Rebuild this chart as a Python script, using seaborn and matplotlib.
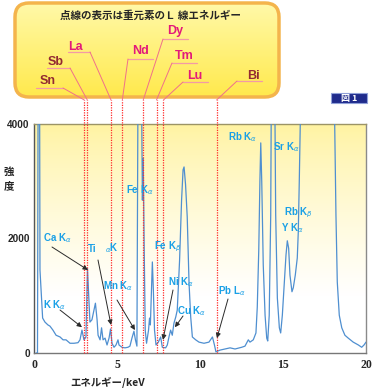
import numpy as np
import matplotlib
matplotlib.use("Agg")
import matplotlib.pyplot as plt
from matplotlib.patches import FancyBboxPatch, Rectangle, ConnectionPatch
import seaborn as sns

# spectrum (keV, counts); values above 4000 are clipped peaks
energy = [0.12, 0.21, 0.26, 0.32, 0.36, 0.46, 0.52, 0.66, 0.84, 0.96, 1.14, 1.33, 1.57, 1.75,
          1.93, 2.17, 2.41, 2.65, 2.77, 2.89, 3.01, 3.13, 3.22, 3.31, 3.37, 3.49, 3.61, 3.70,
          3.80, 3.86, 3.98, 4.07, 4.16, 4.28, 4.40, 4.52, 4.61, 4.70, 4.82, 4.94, 5.06, 5.12,
          5.30, 5.48, 5.66, 5.78, 5.90, 6.02, 6.11, 6.20, 6.28, 6.39, 6.48, 6.53, 6.58, 6.64,
          6.70, 6.78, 6.90, 6.96, 7.01, 7.08, 7.13, 7.19, 7.26, 7.35, 7.49, 7.63, 7.73, 7.93,
          8.03, 8.13, 8.23, 8.33, 8.43, 8.54, 8.63, 8.77, 8.89, 8.98, 9.04, 9.13, 9.23, 9.34,
          9.44, 9.54, 9.74, 9.94, 10.24, 10.54, 10.75, 10.87, 10.96, 11.20, 11.51, 11.81, 12.11,
          12.51, 12.71, 12.91, 13.01, 13.21, 13.37, 13.45, 13.54, 13.61, 13.66, 13.72, 13.81,
          13.92, 14.02, 14.08, 14.17, 14.26, 14.32, 14.40, 14.48, 14.56, 14.66, 14.78, 14.86,
          14.96, 15.08, 15.18, 15.26, 15.34, 15.42, 15.54, 15.62, 15.74, 15.86, 15.92, 15.98,
          16.07, 16.40, 17.00, 17.50, 18.00, 18.09, 18.19, 18.27, 18.39, 18.54, 18.73, 18.93,
          19.23, 19.54, 19.74, 19.88, 20.00]
counts = [0, 0, 6000, 7000, 1450, 930, 610, 540, 490, 470, 400, 310, 280, 230,
          230, 170, 170, 180, 230, 400, 230, 280, 1480, 930, 540, 580, 750, 870,
          580, 310, 230, 440, 230, 260, 140, 260, 420, 170, 100, 140, 230, 140,
          100, 90, 100, 120, 260, 380, 230, 120, 6000, 9000, 4500, 2670, 3400, 1800,
          400, 170, 400, 610, 490, 1100, 1590, 1100, 400, 140, 190, 280, 100, 90,
          140, 280, 400, 310, 520, 630, 750, 1620, 2670, 3200, 3250, 2940, 2380, 1220,
          630, 280, 230, 190, 170, 190, 280, 140, 20, 50, 70, 90, 70,
          100, 120, 230, 190, 230, 350, 800, 1800, 3020, 3670, 2990, 1540,
          660, 260, 210, 660, 2410, 6000, 9000, 5500, 2410, 960, 440, 350,
          660, 1240, 1710, 1960, 1830, 1360, 1070, 1140, 1360, 1660, 2110, 2990,
          4500, 7000, 5500, 9500, 6000, 4500, 2410, 1240, 660, 440, 310, 260,
          190, 140, 100, 140, 190]

# L line energies of heavy elements (dotted lines)
l_elements = ["Sn", "Sb", "La", "Nd", "Dy", "Tm", "Lu", "Bi"]
l_energy = [3.03, 3.21, 4.64, 5.32, 6.58, 7.38, 7.80, 11.0]

# peak labels
peak_text = [r"Ca K$_\alpha$", r"K K$_\alpha$", "Ti", r"$_\alpha$K", r"Mn K$_\alpha$",
             r"Fe K$_\alpha$", r"Fe K$_\beta$", r"Ni K$_\alpha$", r"Cu K$_\alpha$",
             r"Pb L$_\alpha$", r"Rb K$_\alpha$", r"Sr K$_\alpha$", r"Rb K$_\beta$", r"Y K$_\alpha$"]
# arrow targets (keV, counts)
arrow_kev = [3.25, 2.89, 4.64, 6.08, 7.77, 8.49, 11.02]
arrow_cnt = [1450, 450, 490, 400, 230, 450, 260]

sns.set_style("white")
plt.rcParams["font.family"] = ["Liberation Sans", "Noto Sans CJK JP", "DejaVu Sans"]
plt.rcParams["mathtext.fontset"] = "dejavusans"

W, H = 372, 388
fig = plt.figure(figsize=(W / 100, H / 100), dpi=100)
ax = fig.add_axes([34 / W, 35 / H, 332 / W, 229 / H])

# yellow to white background in the plot
t = np.linspace(0, 1, 200)[:, None]
s = np.clip(t / 0.75, 0, 1) ** 0.8
top = np.array([1.0, 0.953, 0.63])
grad = (top * (1 - s) + np.ones(3) * s)[:, None, :]
ax.imshow(grad, extent=[0, 20, 0, 4000], aspect="auto", zorder=0)

sns.lineplot(x=energy, y=counts, ax=ax, color="#4f8fd0", lw=0.9,
             estimator=None, sort=False, zorder=3)

ax.set_xlim(0, 20)
ax.set_ylim(0, 4000)
ax.set_xticks([0, 5, 10, 15, 20])
ax.set_xticklabels(["0", "5", "10", "15", "20"], fontfamily="Liberation Serif",
                   fontsize=8.5, fontweight="bold")
ax.set_yticks([0, 1000, 2000, 3000, 4000])
ax.set_yticklabels(["0", "", "2000", "", "4000"], fontsize=7.2, fontweight="bold")
ax.tick_params(axis="x", length=0, pad=4)
ax.tick_params(axis="y", direction="in", length=4, width=0.8, color="#777777", pad=3)
ax.set_xlabel("")
ax.set_ylabel("")
for side, col in [("left", "#555555"), ("bottom", "#777777"),
                  ("top", "#9c9466"), ("right", "#8a8a8a")]:
    ax.spines[side].set_color(col)
    ax.spines[side].set_linewidth(1.0)

# dotted L lines, running up to the label box
ytop = (353 - 100) / 229
for e in l_energy:
    ax.axvline(e, ymin=0, ymax=ytop, clip_on=False, color="#ff2a2a",
               ls=(0, (1, 1)), lw=0.9, zorder=4)

# overlay in pixel coordinates for the annotations
ov = fig.add_axes([0, 0, 1, 1])
ov.set_xlim(0, W)
ov.set_ylim(H, 0)
ov.axis("off")
ov.patch.set_alpha(0)

box = FancyBboxPatch((15, 3), 264, 94, boxstyle="round,pad=0,rounding_size=14",
                     fc="none", ec="#f4b44c", lw=2.5, zorder=3)
ov.add_patch(box)
bt = np.linspace(0, 1, 100)[:, None]
bgrad = (np.array([1.0, 0.975, 0.66]) * (1 - bt) + np.array([1.0, 0.915, 0.30]) * bt)[:, None, :]
im = ov.imshow(bgrad, extent=[15, 279, 97, 3], aspect="auto", zorder=1)
im.set_clip_path(box)
ov.set_xlim(0, W)
ov.set_ylim(H, 0)

ov.text(150, 16, "点線の表示は重元素のＬ 線エネルギー", ha="center", va="center",
        fontsize=7.6, fontweight="bold", family=["Noto Sans CJK JP"], zorder=5)

lab_x = [40, 48, 68, 132, 167, 175, 187, 247]
lab_y = [81, 62, 47, 51, 31, 56, 76, 76]
ul_y = [88, 68, 52, 59, 39, 63, 82, 81]
ul_x0 = [36, 47, 68, 128, 163, 172, 183, 237]
ul_x1 = [63, 70, 90, 153, 188, 197, 208, 262]
lab_col = ["#932a32", "#932a32", "#e3197a", "#e3197a", "#e3197a", "#e3197a", "#e3197a", "#932a32"]
for i, el in enumerate(l_elements):
    ov.text(lab_x[i], lab_y[i], el, ha="left", va="center", fontsize=9,
            fontweight="bold", color=lab_col[i], zorder=5)
    ov.plot([ul_x0[i], ul_x1[i]], [ul_y[i], ul_y[i]], color="#f39aa6", lw=0.9, zorder=5)
    sx = ul_x1[i] if i < 3 else ul_x0[i]
    con = ConnectionPatch(xyA=(sx, ul_y[i]), coordsA=ov.transData,
                          xyB=(l_energy[i], ytop), coordsB=ax.get_xaxis_transform(),
                          color="#f0708a", lw=0.7, zorder=5)
    fig.add_artist(con)

# peak labels
px = [43, 43, 88, 105, 103, 126, 154, 168, 177, 218, 228, 273, 284, 281]
py = [238, 305, 248, 248, 286, 190, 246, 282, 311, 291, 137, 147, 212, 228]
for txt, x, y in zip(peak_text, px, py):
    ov.text(x, y + 3.5, txt, ha="left", va="baseline", fontsize=7, fontweight="bold",
            color="#1aa0e6", zorder=6)

# arrows from label to peak
tail_x = [52, 60, 98, 117, 173, 183, 228]
tail_y = [247, 310, 260, 300, 290, 316, 299]
for i in range(len(arrow_kev)):
    ov.annotate("", xy=(arrow_kev[i], arrow_cnt[i]), xycoords=ax.transData,
                xytext=(tail_x[i], tail_y[i]), textcoords=ov.transData,
                arrowprops=dict(arrowstyle="-|>", color="#2a2a2a", lw=0.7,
                                mutation_scale=7, shrinkA=0, shrinkB=0), zorder=6)

# figure badge
ov.add_patch(Rectangle((331, 93), 36, 10, fc="#1f2b8c", ec="#8fa0d8", lw=0.8, zorder=5))
ov.text(349, 98.5, "図 1", ha="center", va="center", fontsize=6.5, fontweight="bold",
        color="white", family=["Noto Sans CJK JP"], zorder=6)

# axis titles
ov.text(9, 172, "強", ha="center", va="center", fontsize=7.5, fontweight="bold",
        family=["Noto Sans CJK JP"])
ov.text(9, 186, "度", ha="center", va="center", fontsize=7.5, fontweight="bold",
        family=["Noto Sans CJK JP"])
ov.text(108, 382, "エネルギー/keV", ha="center", va="center", fontsize=7.5,
        fontweight="bold", family=["Noto Sans CJK JP", "Liberation Sans"])

plt.savefig("out.png", dpi=100)
